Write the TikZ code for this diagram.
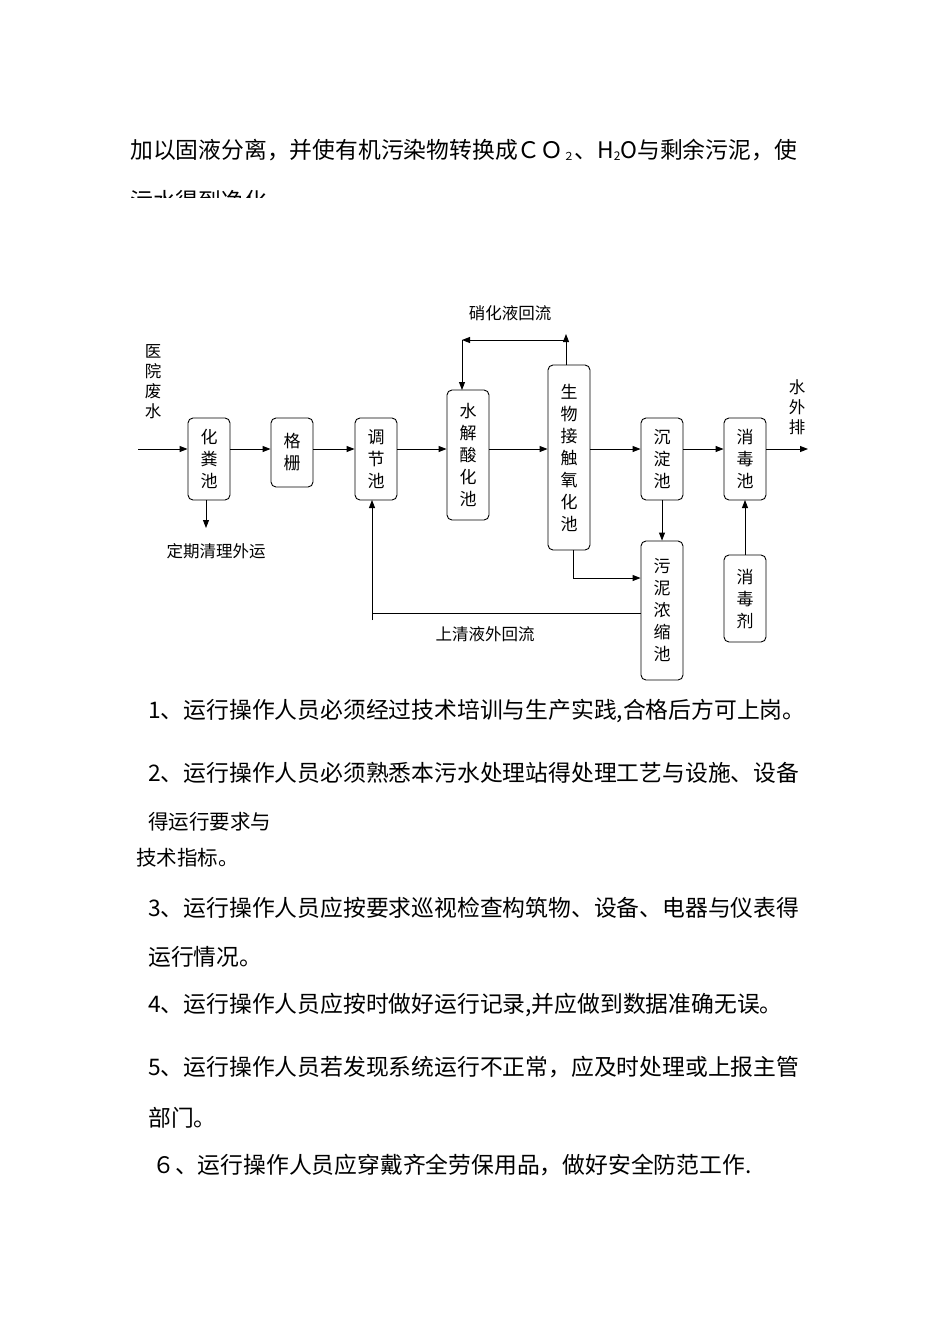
\documentclass[tikz,border=0pt]{standalone}
\usepackage{fontspec}
\setmainfont{Liberation Sans}
\newfontfamily\cjk{Noto Sans CJK SC}
\usetikzlibrary{arrows.meta}
\begin{document}
\begin{tikzpicture}[x=1pt,y=-1pt,
  box/.style={draw,rounded corners=5pt,line width=0.9pt,minimum width=42pt,align=center,inner sep=0pt,font=\cjk\fontsize{17}{22}\selectfont},
  arr/.style={line width=0.9pt,-{Triangle[length=8pt,width=6pt]}},
  ln/.style={line width=0.9pt},
  lbl/.style={font=\cjk\fontsize{16.5}{20}\selectfont,inner sep=0pt},
  body/.style={font=\cjk\fontsize{22.8}{26}\selectfont,anchor=west,inner sep=0pt}]
\useasboundingbox (0,0) rectangle (950,1344);
\fill[white] (0,0) rectangle (950,1344);
% top text
\node[body] (t1) at (130,150) {加以固液分离，并使有机污染物转换成ＣＯ\raisebox{-2pt}{\fontsize{11}{11}\selectfont ２}、H\raisebox{-2pt}{\fontsize{12}{12}\selectfont 2}O与剩余污泥，使};
\begin{scope}
\clip (100,170) rectangle (850,197);
\node[body] (t2) at (130,201) {污水得到净化。};
\end{scope}
% boxes
\node[box,minimum height=82pt] (hf) at (209,459) {化\\粪\\池};
\node[box,minimum height=69pt] (gs) at (292,452.5) {格\\栅};
\node[box,minimum height=82pt] (tj) at (376,459) {调\\节\\池};
\node[box,minimum height=130pt] (sj) at (468,455) {水\\解\\酸\\化\\池};
\node[box,minimum height=185pt] (sw) at (569,457.5) {生\\物\\接\\触\\氧\\化\\池};
\node[box,minimum height=82pt] (cd) at (662,459) {沉\\淀\\池};
\node[box,minimum height=82pt] (xd) at (745,459) {消\\毒\\池};
\node[box,minimum height=139pt] (wn) at (662,610.5) {污\\泥\\浓\\缩\\池};
\node[box,minimum height=87pt] (xdj) at (745,598.5) {消\\毒\\剂};
% labels
\node[lbl,align=center] (in) at (153,382) {医\\院\\废\\水};
\node[lbl,align=center] (out) at (797,407) {水\\外\\排};
\node[lbl] (dq) at (216,551) {定期清理外运};
\node[lbl] (xh) at (510,313) {硝化液回流};
\node[lbl] (sq) at (485,634) {上清液外回流};
\coordinate (s0) at (138,449);
\coordinate (e0) at (808,449);
% main flow
\draw[arr] (s0) -- (hf.west|-s0);
\draw[arr] (hf.east|-s0) -- (gs.west|-s0);
\draw[arr] (gs.east|-s0) -- (tj.west|-s0);
\draw[arr] (tj.east|-s0) -- (sj.west|-s0);
\draw[arr] (sj.east|-s0) -- (sw.west|-s0);
\draw[arr] (sw.east|-s0) -- (cd.west|-s0);
\draw[arr] (cd.east|-s0) -- (xd.west|-s0);
\draw[arr] (xd.east|-s0) -- (e0);
% others
\coordinate (d1) at (206,528);
\draw[arr] (206,500) -- (d1);
\coordinate (n1) at (566,334);
\coordinate (n2) at (462,340);
\draw[arr] (566,365) -- (n1);
\draw[arr] (566,340) -- (n2);
\draw[arr] (462,340) -- (462,390);
\draw[arr] (662,500) -- (wn.north);
\draw[ln] (573,550) -- (573,578);
\draw[arr] (573,578) -- (wn.west|-0,578);
\draw[ln] (wn.west|-0,613) -- (372,613);
\draw[arr] (372,620) -- (372,500);
\draw[arr] (xdj.north) -- (745,500);
% body text
\node[body] (p1) at (148,711) {1、运行操作人员必须经过技术培训与生产实践,合格后方可上岗。};
\node[body] (p2) at (148,773) {2、运行操作人员必须熟悉本污水处理站得处理工艺与设施、设备};
\node[body,font=\cjk\fontsize{20.5}{24}\selectfont] (p2b) at (148,822) {得运行要求与};
\node[body,font=\cjk\fontsize{20.5}{24}\selectfont] (p2c) at (136,858) {技术指标。};
\node[body] (p3) at (148,908) {3、运行操作人员应按要求巡视检查构筑物、设备、电器与仪表得};
\node[body] (p3b) at (148,957) {运行情况。};
\node[body] (p4) at (148,1005) {4、运行操作人员应按时做好运行记录,并应做到数据准确无误。};
\node[body] (p5) at (148,1067) {5、运行操作人员若发现系统运行不正常，应及时处理或上报主管};
\node[body] (p5b) at (148,1118) {部门。};
\node[body] (p6) at (152,1165) {６、运行操作人员应穿戴齐全劳保用品，做好安全防范工作.};
\end{tikzpicture}
\end{document}
